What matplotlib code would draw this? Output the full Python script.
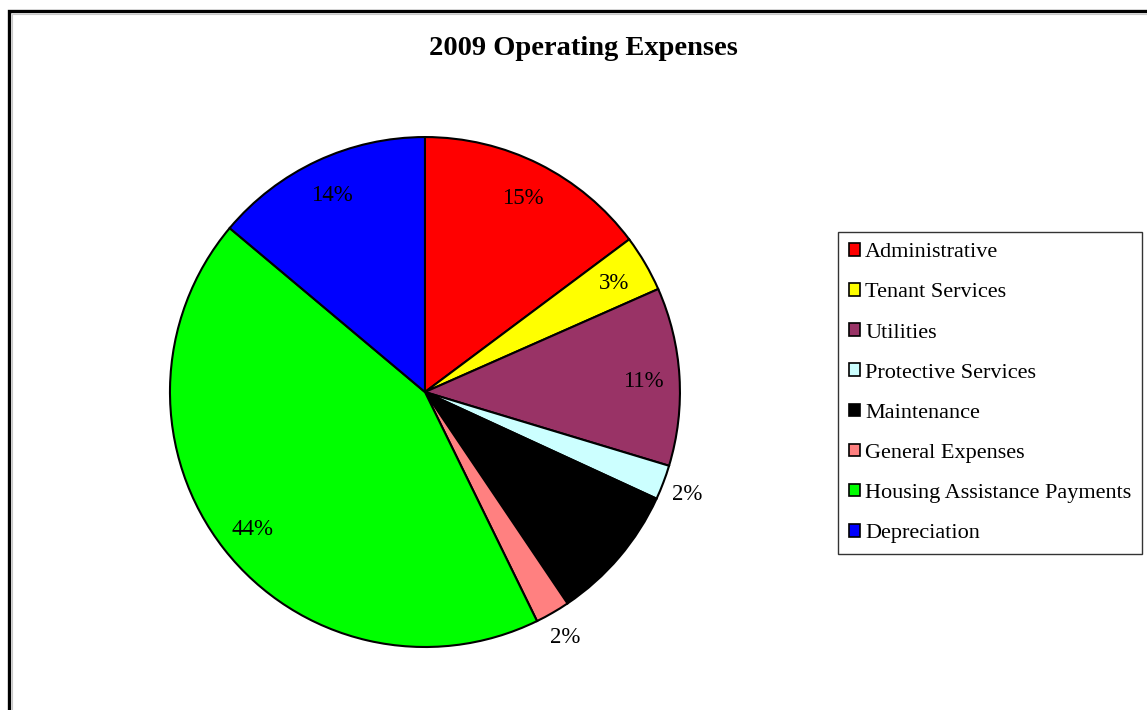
import matplotlib
matplotlib.use('Agg')

import numpy as np
import matplotlib.pyplot as plt
from matplotlib.patches import Patch, Rectangle

categories = ["Administrative", "Tenant Services", "Utilities", "Protective Services",
              "Maintenance", "General Expenses", "Housing Assistance Payments", "Depreciation"]
shares = [14.8, 3.6, 11.3, 2.2, 8.7, 2.2, 43.4, 13.9]
pct_labels = ["15%", "3%", "11%", "2%", "", "2%", "44%", "14%"]
colors = ["#FF0000", "#FFFF00", "#993366", "#CCFFFF", "#000000", "#FF8080", "#00FF00", "#0000FF"]

plt.rcParams['font.family'] = ['Liberation Serif', 'DejaVu Serif']

fig = plt.figure(figsize=(11.47, 7.10), dpi=100)
fig.patch.set_facecolor('white')

# outer frame, runs off the right and bottom edge like the screenshot
fig.patches.append(Rectangle((8.5/1147, -0.2), 1.2, 1.2 - 11/710,
                             transform=fig.transFigure, fill=False,
                             edgecolor='black', linewidth=2.4))
fig.patches.append(Rectangle((11.5/1147, -0.2), 1.2, 1.2 - 14/710,
                             transform=fig.transFigure, fill=False,
                             edgecolor='#c8c8c8', linewidth=0.8))

ax = fig.add_axes([0.1482, 0.0887, 0.4446, 0.7183])
wedges, _ = ax.pie(shares, colors=colors, startangle=90, counterclock=False,
                   wedgeprops=dict(edgecolor='black', linewidth=1.5))
ax.set_xlim(-1, 1)
ax.set_ylim(-1, 1)
ax.set_aspect('equal')
ax.axis('off')

# percentage labels, small slices get theirs outside
total = sum(shares)
start = 0.0
for share, lab in zip(shares, pct_labels):
    mid = start + share / 2
    start += share
    if not lab:
        continue
    r = 0.86 if share > 3 else 1.1
    ang = np.deg2rad(90 - mid / total * 360)
    ax.text(r * np.cos(ang), r * np.sin(ang) - 0.01, lab, ha='center', va='center',
            fontsize=16.5, color='black')

fig.text(0.509, 0.932, "2009 Operating Expenses", ha='center', va='center',
         fontsize=20.5, fontweight='bold')

handles = [Patch(facecolor=c, edgecolor='black', linewidth=1.2) for c in colors]
leg = fig.legend(handles, categories, loc='upper left',
                 bbox_to_anchor=(0.7306, 0.6732), borderaxespad=0,
                 fontsize=16, frameon=True, fancybox=False,
                 handlelength=0.5, handleheight=0.5, handletextpad=0.22,
                 labelspacing=0.94, borderpad=0.5)
leg.get_frame().set_edgecolor('black')
leg.get_frame().set_linewidth(1.0)

fig.savefig('out.png', dpi=100)
